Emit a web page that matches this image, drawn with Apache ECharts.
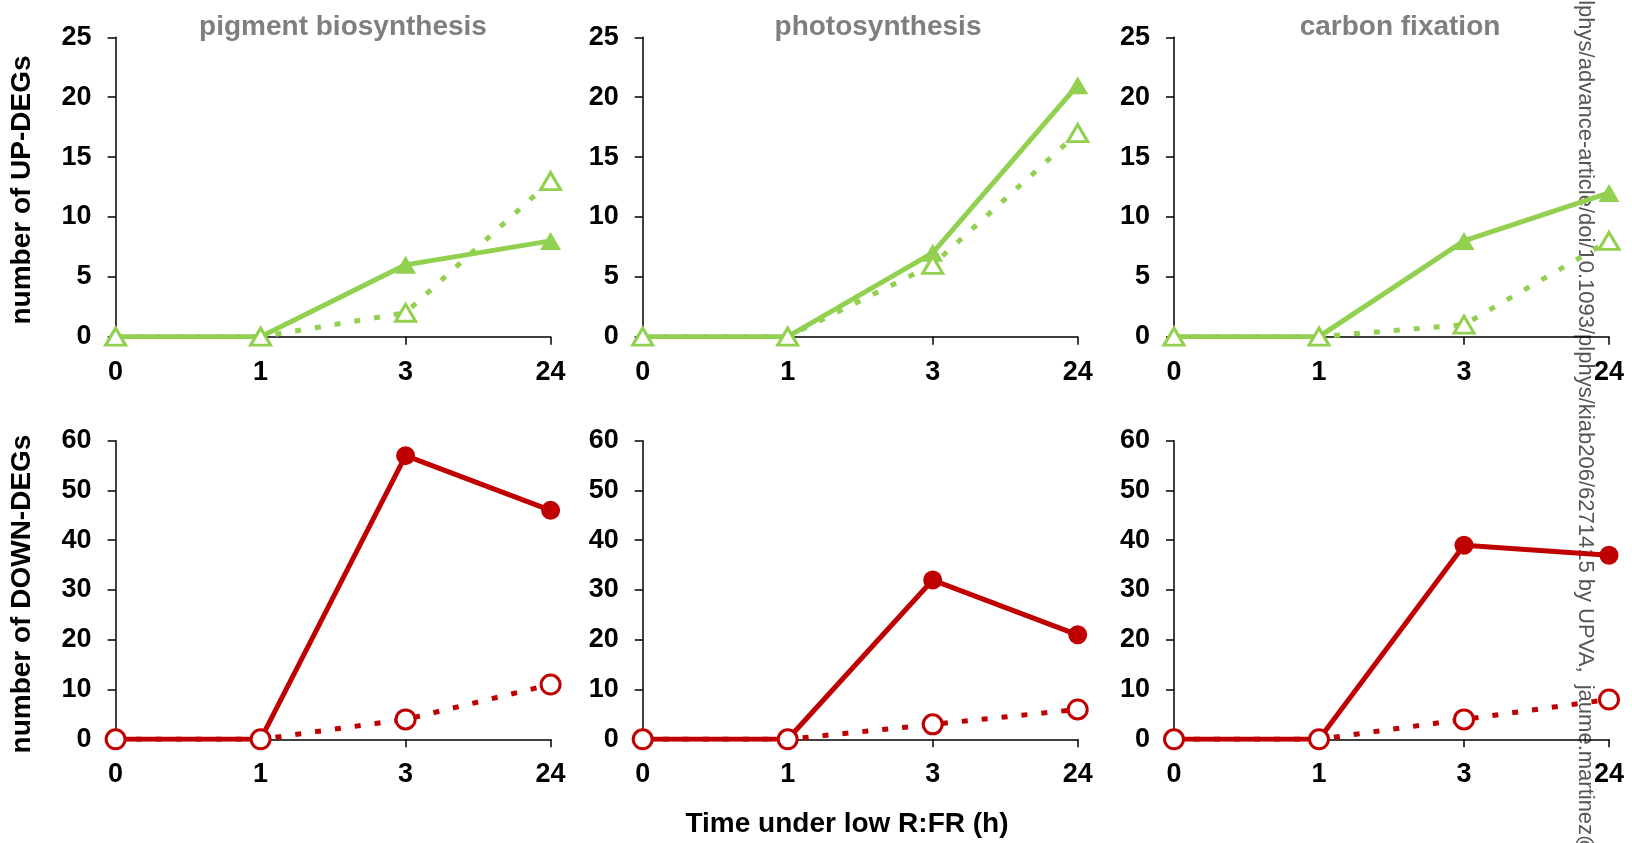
<!DOCTYPE html>
<html>
<head>
<meta charset="utf-8">
<script src="https://cdn.jsdelivr.net/npm/echarts@6/dist/echarts.min.js"></script>
<style>
html,body{margin:0;padding:0;background:#fff;}
#chart{width:1632px;height:843px;}
</style>
</head>
<body>
<div id="chart"></div>
<script>
// ---- data ----
const categories = ['0', '1', '3', '24'];
const panelTitles = ['pigment biosynthesis', 'photosynthesis', 'carbon fixation'];
const rowNames = ['number of UP-DEGs', 'number of DOWN-DEGs'];
const xAxisTitle = 'Time under low R:FR (h)';
const watermark = 'plphys/advance-article/doi/10.1093/plphys/kiab206/6271415 by UPVA,  jaume.martinez@ibmcp.upv.es';

// UP-DEGs (solid = filled triangles, dotted = open triangles)
const upSolidPigment = [0, 0, 6, 8];
const upDottedPigment = [0, 0, 2, 13];
const upSolidPhoto = [0, 0, 7, 21];
const upDottedPhoto = [0, 0, 6, 17];
const upSolidCarbon = [0, 0, 8, 12];
const upDottedCarbon = [0, 0, 1, 8];

// DOWN-DEGs (solid = filled circles, dotted = open circles)
const downSolidPigment = [0, 0, 57, 46];
const downDottedPigment = [0, 0, 4, 11];
const downSolidPhoto = [0, 0, 32, 21];
const downDottedPhoto = [0, 0, 3, 6];
const downSolidCarbon = [0, 0, 39, 37];
const downDottedCarbon = [0, 0, 4, 8];

const upMax = 25, upInterval = 5;
const downMax = 60, downInterval = 10;

// ---- layout / style ----
const GREEN = '#92D050';
const RED = '#C00000';
const FONT = "'Liberation Sans', Arial, sans-serif";
const colLeft = [115.6, 642.7, 1174];
const colWidth = 435;
const rowTop = [37.3, 440.7];
const rowHeight = [299.4, 298.6];
const titleX = [343, 878, 1400];

const upData = [[upSolidPigment, upDottedPigment], [upSolidPhoto, upDottedPhoto], [upSolidCarbon, upDottedCarbon]];
const downData = [[downSolidPigment, downDottedPigment], [downSolidPhoto, downDottedPhoto], [downSolidCarbon, downDottedCarbon]];

const grids = [], xAxes = [], yAxes = [], series = [];
for (let r = 0; r < 2; r++) {
  for (let c = 0; c < 3; c++) {
    const idx = r * 3 + c;
    grids.push({left: colLeft[c], top: rowTop[r], width: colWidth, height: rowHeight[r], containLabel: false, outerBoundsMode: 'none'});
    xAxes.push({
      type: 'category', gridIndex: idx, data: categories, boundaryGap: false,
      axisLine: {show: true, onZero: false, lineStyle: {color: '#000', width: 1.5}},
      axisTick: {show: true, inside: false, length: 8, lineStyle: {color: '#000', width: 1.5}},
      axisLabel: {color: '#000', fontWeight: 'bold', fontSize: 27, fontFamily: FONT, margin: 22},
      splitLine: {show: false}
    });
    yAxes.push({
      type: 'value', gridIndex: idx, min: 0, max: r === 0 ? upMax : downMax,
      interval: r === 0 ? upInterval : downInterval,
      axisLine: {show: true, lineStyle: {color: '#000', width: 1.5}},
      axisTick: {show: true, inside: false, length: 8, lineStyle: {color: '#000', width: 1.5}},
      axisLabel: {color: '#000', fontWeight: 'bold', fontSize: 27, fontFamily: FONT, margin: 24},
      splitLine: {show: false}
    });
    const color = r === 0 ? GREEN : RED;
    const pair = r === 0 ? upData[c] : downData[c];
    const filledSym = r === 0 ? 'triangle' : 'circle';
    series.push({
      type: 'line', xAxisIndex: idx, yAxisIndex: idx, data: pair[0],
      symbol: filledSym, symbolSize: r === 0 ? [21, 18] : 19,
      showAllSymbol: true,
      lineStyle: {color: color, width: 5},
      itemStyle: {color: color, borderColor: color, borderWidth: 0},
      z: 2, animation: false, silent: true
    });
    series.push({
      type: 'line', xAxisIndex: idx, yAxisIndex: idx, data: pair[1],
      symbol: filledSym, symbolSize: r === 0 ? [20, 17] : 19,
      showAllSymbol: true,
      lineStyle: {color: color, width: 5, type: [6, 14], cap: 'butt'},
      itemStyle: {color: '#fff', borderColor: color, borderWidth: 3},
      z: 3, animation: false, silent: true
    });
  }
}

const graphics = [];
panelTitles.forEach((t, i) => {
  graphics.push({type: 'text', x: titleX[i], y: 27, silent: true,
    style: {text: t, fill: '#7f7f7f', font: "bold 28px 'Liberation Sans', Arial, sans-serif", textAlign: 'center', textVerticalAlign: 'middle'}});
});
const nameY = [190, 594];
rowNames.forEach((t, i) => {
  graphics.push({type: 'text', x: 22, y: nameY[i], rotation: Math.PI / 2, silent: true,
    style: {text: t, fill: '#000', font: "bold 28px 'Liberation Sans', Arial, sans-serif", textAlign: 'center', textVerticalAlign: 'middle'}});
});
graphics.push({type: 'text', x: 847, y: 824, silent: true,
  style: {text: xAxisTitle, fill: '#000', font: "bold 28px 'Liberation Sans', Arial, sans-serif", textAlign: 'center', textVerticalAlign: 'middle'}});
graphics.push({type: 'text', x: 1585, y: -12, rotation: -Math.PI / 2, silent: true,
  style: {text: watermark, fill: '#555', font: "22px 'Liberation Sans', Arial, sans-serif", textAlign: 'left', textVerticalAlign: 'middle'}});

const chart = echarts.init(document.getElementById('chart'), null, {renderer: 'canvas'});
chart.setOption({
  backgroundColor: '#fff',
  animation: false,
  grid: grids, xAxis: xAxes, yAxis: yAxes, series: series,
  graphic: graphics
});
</script>
</body>
</html>
